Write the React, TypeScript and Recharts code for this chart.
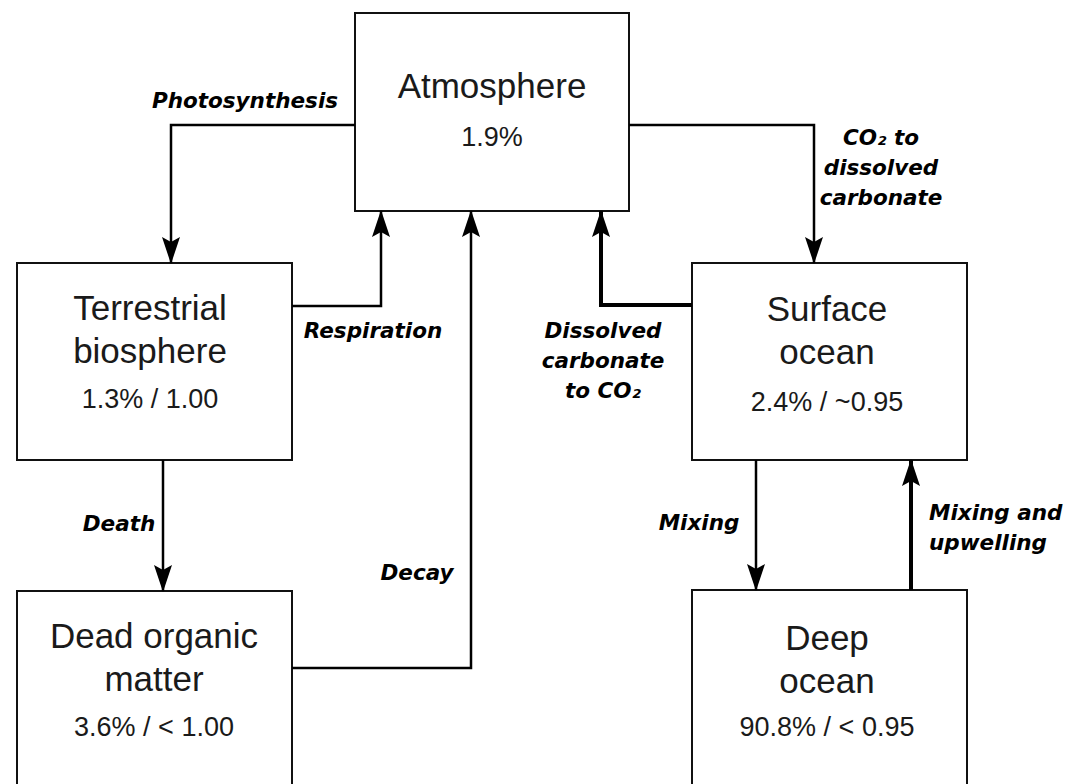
import React from "react"
import { ComposedChart, XAxis, YAxis, ReferenceArea, Line, Scatter } from "recharts"

const W = 1070
const H = 784

// carbon pools (diagram units: x from left, y from top)
const poolTitles = [["Atmosphere"], ["Terrestrial", "biosphere"], ["Surface", "ocean"], ["Dead organic", "matter"], ["Deep", "ocean"]]
const poolShares = ["1.9%", "1.3% / 1.00", "2.4% / ~0.95", "3.6% / < 1.00", "90.8% / < 0.95"]
const poolBoxes = [
  { x1: 355, x2: 629, y1: 13, y2: 211 },
  { x1: 17, x2: 292, y1: 263, y2: 460 },
  { x1: 692, x2: 967, y1: 263, y2: 460 },
  { x1: 17, x2: 292, y1: 591, y2: 800 },
  { x1: 692, x2: 967, y1: 590, y2: 800 },
]
const poolTextX = [492, 150, 827, 154, 827]
const poolTitleY = [85, 307, 308, 635, 637]
const poolShareY = [137, 399, 402, 727, 727]

// fluxes between pools, drawn from source to target
const fluxPaths = [
  [[355, 125], [171, 125], [171, 263]],
  [[292, 306], [381, 306], [381, 211]],
  [[292, 668], [471, 668], [471, 211]],
  [[692, 305], [601, 305], [601, 211]],
  [[629, 125], [814, 125], [814, 263]],
  [[163, 460], [163, 591]],
  [[756, 460], [756, 590]],
  [[911, 590], [911, 460]],
]
const fluxMajor = [false, false, false, true, false, false, false, true]
const fluxLabels = [
  ["Photosynthesis"],
  ["Respiration"],
  ["Decay"],
  ["Dissolved", "carbonate", "to CO₂"],
  ["CO₂ to", "dissolved", "carbonate"],
  ["Death"],
  ["Mixing"],
  ["Mixing and", "upwelling"],
]
const fluxLabelX = [245, 373, 417, 603, 881, 119, 699, 929]
const fluxLabelY = [100, 330, 572, 330, 137, 523, 522, 512]
const fluxLabelAnchor = ["middle", "middle", "middle", "middle", "middle", "middle", "middle", "start"]

const textStyles: Record<string, any> = {
  title: { fontFamily: "'Liberation Sans', Arial, sans-serif", fontSize: 35, fontWeight: 400, fontStyle: "normal", fill: "#1a1a1a", gap: 43 },
  share: { fontFamily: "'Liberation Sans', Arial, sans-serif", fontSize: 27, fontWeight: 400, fontStyle: "normal", fill: "#1a1a1a", gap: 30 },
  flux: { fontFamily: "'DejaVu Sans', sans-serif", fontSize: 21.5, fontWeight: 700, fontStyle: "italic", fill: "#000", gap: 30 },
}

const textMarks = [
  ...poolTitles.map((lines, i) => ({ x: poolTextX[i], y: poolTitleY[i], lines, kind: "title", anchor: "middle" })),
  ...poolShares.map((s, i) => ({ x: poolTextX[i], y: poolShareY[i], lines: [s], kind: "share", anchor: "middle" })),
  ...fluxLabels.map((lines, i) => ({ x: fluxLabelX[i], y: fluxLabelY[i], lines, kind: "flux", anchor: fluxLabelAnchor[i] })),
]

function TextMark(props: any) {
  const { cx, cy, payload } = props
  if (cx == null || cy == null) return null
  const st = textStyles[payload.kind]
  return (
    <text
      textAnchor={payload.anchor}
      dominantBaseline="central"
      fontFamily={st.fontFamily}
      fontSize={st.fontSize}
      fontWeight={st.fontWeight}
      fontStyle={st.fontStyle}
      fill={st.fill}
    >
      {payload.lines.map((l: string, i: number) => (
        <tspan key={i} x={cx} y={cy + i * st.gap}>
          {l}
        </tspan>
      ))}
    </text>
  )
}

// arrowhead on the last point of a flux, pointing along the final segment
const arrowDot = (pts: number[][]) => (props: any) => {
  const { cx, cy, index } = props
  if (index !== pts.length - 1 || cx == null) return <g key={`d${index}`} />
  const [px, py] = pts[index - 1]
  const [qx, qy] = pts[index]
  const angle = (Math.atan2(qy - py, qx - px) * 180) / Math.PI
  return (
    <path
      key="head"
      d="M1,0 L-26,-9 L-21,0 L-26,9 Z"
      transform={`translate(${cx},${cy}) rotate(${angle})`}
      fill="#000"
      stroke="none"
    />
  )
}

export default function App() {
  return (
    <div style={{ position: "absolute", left: 0, top: 0, width: W, height: H, background: "#fff" }}>
      <ComposedChart width={W} height={H} margin={{ top: 0, right: 0, bottom: 0, left: 0 }}>
        <XAxis type="number" dataKey="x" domain={[0, W]} allowDataOverflow hide />
        <YAxis type="number" domain={[0, H]} reversed allowDataOverflow hide />
        {poolBoxes.map((b, i) => (
          <ReferenceArea
            key={`pool${i}`}
            x1={b.x1}
            x2={b.x2}
            y1={b.y1}
            y2={b.y2}
            ifOverflow="visible"
            fill="#fff"
            fillOpacity={0}
            stroke="#111"
            strokeWidth={2}
          />
        ))}
        {fluxPaths.map((pts, i) => (
          <Line
            key={`flux${i}`}
            data={pts.map(([x, y]) => ({ x, y }))}
            dataKey="y"
            type="linear"
            stroke="#000"
            strokeWidth={fluxMajor[i] ? 4 : 2.5}
            dot={arrowDot(pts)}
            activeDot={false}
            legendType="none"
            isAnimationActive={false}
          />
        ))}
        <Scatter data={textMarks} dataKey="y" shape={(p: any) => <TextMark {...p} />} isAnimationActive={false} />
      </ComposedChart>
    </div>
  )
}
